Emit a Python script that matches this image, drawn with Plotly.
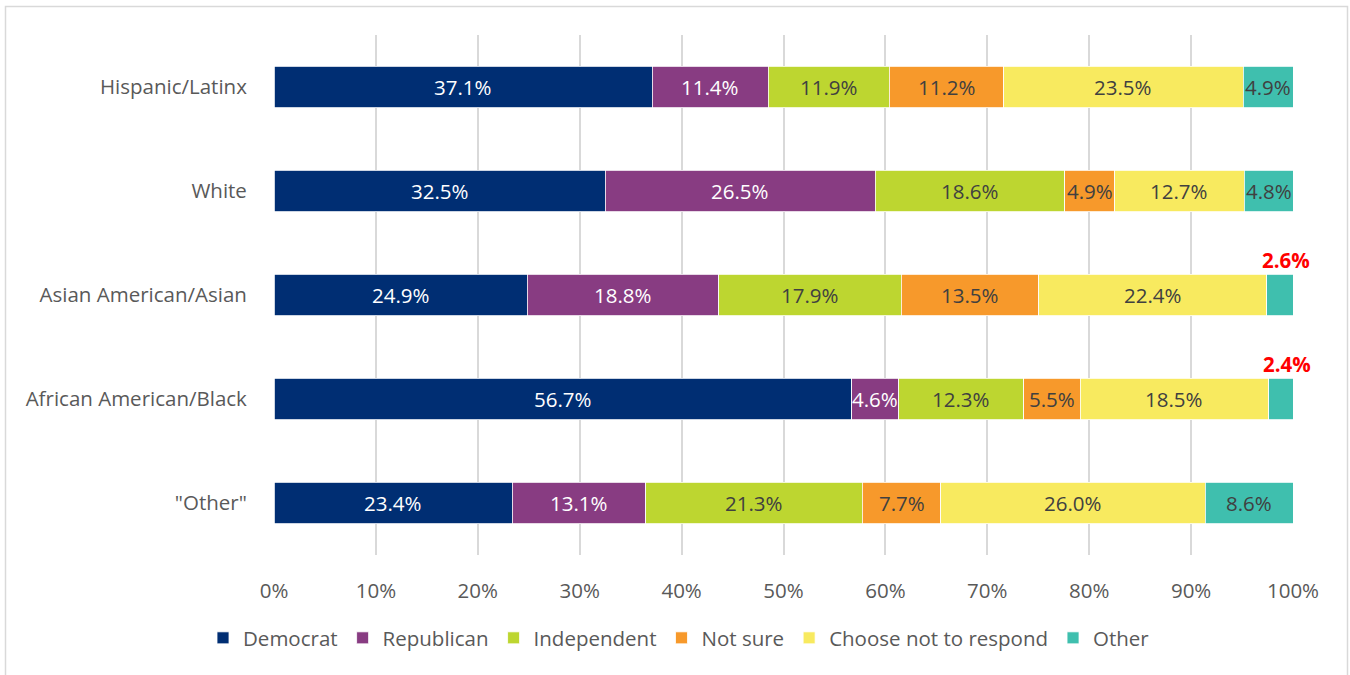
import plotly.graph_objects as go

# Party identification by race/ethnicity (percent of respondents)
groups = ["Hispanic/Latinx", "White", "Asian American/Asian",
          "African American/Black", "\"Other\""]
parties = ["Democrat", "Republican", "Independent", "Not sure",
           "Choose not to respond", "Other"]

democrat = [37.1, 32.5, 24.9, 56.7, 23.4]
republican = [11.4, 26.5, 18.8, 4.6, 13.1]
independent = [11.9, 18.6, 17.9, 12.3, 21.3]
not_sure = [11.2, 4.9, 13.5, 5.5, 7.7]
no_response = [23.5, 12.7, 22.4, 18.5, 26.0]
other = [4.9, 4.8, 2.6, 2.4, 8.6]

series = [democrat, republican, independent, not_sure, no_response, other]
colors = ["#002E73", "#883C82", "#BDD630", "#F7992B", "#F8EA5F", "#3FBFAE"]
label_colors = ["#FFFFFF", "#FFFFFF", "#404040", "#404040", "#404040", "#404040"]
# Segments whose value is called out above the bar in red
callouts = {("Asian American/Asian", 5), ("African American/Black", 5)}

FONT = "Open Sans"
FS = 20.5
W, H = 1350, 675
M_L, M_R, M_T, M_B = 274, 57, 35, 120
PW, PH = W - M_L - M_R, H - M_T - M_B

fig = go.Figure()
for name, vals, col in zip(parties, series, colors):
    fig.add_trace(go.Bar(
        name=name, y=groups, x=vals, orientation="h",
        marker=dict(color=col, line=dict(color="white", width=0.8)),
        hoverinfo="x+y+name",
    ))

annotations = []
for gi, g in enumerate(groups):
    row = [s[gi] for s in series]
    total = sum(row)
    cum = 0.0
    for si, v in enumerate(row):
        share = v / total * 100
        center = cum + share / 2
        cum += share
        if (g, si) in callouts:
            annotations.append(dict(
                x=center, y=g, xref="x", yref="y", text=f"<b>{v:.1f}%</b>",
                showarrow=False, xshift=6, yshift=35,
                font=dict(family=FONT, size=FS, color="#FF0000")))
        else:
            annotations.append(dict(
                x=center, y=g, xref="x", yref="y", text=f"{v:.1f}%",
                showarrow=False,
                font=dict(family=FONT, size=FS, color=label_colors[si])))

def px_to_paper_x(px):
    return (px - M_L) / PW

def px_to_paper_y(py):
    return (H - M_B - py) / PH

fig.update_layout(
    width=W, height=H,
    margin=dict(l=M_L, r=M_R, t=M_T, b=M_B),
    barmode="stack", barnorm="percent", bargap=0.6,
    plot_bgcolor="white", paper_bgcolor="white",
    font=dict(family=FONT, size=FS, color="#595959"),
    xaxis=dict(
        range=[0, 100], tickvals=list(range(0, 101, 10)),
        ticktext=[f"{v}%" for v in range(0, 101, 10)],
        showgrid=True, gridcolor="#D9D9D9", gridwidth=2,
        zeroline=False, showline=False,
        ticks="outside", ticklen=17, tickcolor="rgba(0,0,0,0)",
        tickfont=dict(family=FONT, size=FS, color="#595959"),
        fixedrange=True,
    ),
    yaxis=dict(
        autorange="reversed", showgrid=False, zeroline=False, showline=False,
        ticks="outside", ticklen=22, tickcolor="rgba(0,0,0,0)",
        tickfont=dict(family=FONT, size=FS, color="#595959"),
        fixedrange=True,
    ),
    legend=dict(
        orientation="h", x=px_to_paper_x(679), xanchor="center",
        y=px_to_paper_y(638), yanchor="middle",
        font=dict(family=FONT, size=FS, color="#595959"),
        traceorder="normal", itemclick=False, itemdoubleclick=False,
    ),
    annotations=annotations,
    shapes=[dict(
        type="rect", xref="paper", yref="paper", layer="below",
        x0=px_to_paper_x(5.5), x1=px_to_paper_x(1347.5),
        y0=px_to_paper_y(690), y1=px_to_paper_y(6.5),
        line=dict(color="#D9D9D9", width=1.5), fillcolor="rgba(0,0,0,0)",
    )],
)

fig.write_html("out.html")
